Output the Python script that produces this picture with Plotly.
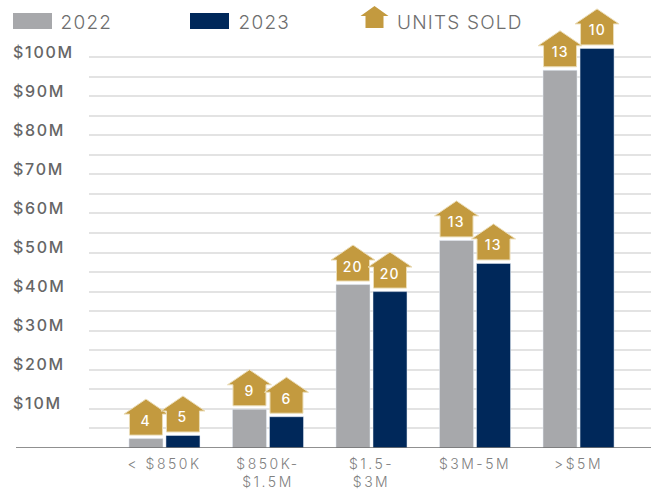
import plotly.graph_objects as go

categories = ["< $850K", "$850K-<br>$1.5M", "$1.5-<br>$3M", "$3M-5M", ">$5M"]
values_2022 = [2.4, 9.9, 41.8, 53.1, 96.6]
values_2023 = [3.2, 8.0, 40.0, 47.2, 102.2]
units_2022 = [4, 9, 20, 13, 13]
units_2023 = [5, 6, 20, 13, 10]
y_ticks = [10, 20, 30, 40, 50, 60, 70, 80, 90, 100]
y_labels = ["$10M", "$20M", "$30M", "$40M", "$50M", "$60M", "$70M", "$80M", "$90M", "$100M"]
y_minor = [5, 15, 25, 35, 45, 55, 65, 75, 85, 95]

GRAY = "#A7A8AB"
NAVY = "#00285A"
GOLD = "#C39A3F"
EDGE = "#EBDDB8"
FONT = "Inter, sans-serif"
W, H = 660, 489
L, R, T, B = 9, 651, 2.0, 448.0
Y_TOP = (B - T) / 3.91
PW = R - L


def house(cx, bottom=3.5):
    return (f"M{cx-16.5},{bottom} L{cx+16.5},{bottom} L{cx+16.5},{bottom+21} L{cx+22},{bottom+21} "
            f"L{cx},{bottom+36} L{cx-22},{bottom+21} L{cx-16.5},{bottom+21} Z")


fig = go.Figure()
fig.add_bar(x=list(range(5)), y=values_2022, name="2022", marker_color=GRAY, showlegend=False)
fig.add_bar(x=list(range(5)), y=values_2023, name="2023", marker_color=NAVY, showlegend=False)
# carries the dollar labels, whose spacing is slightly tighter than the gridlines
fig.add_scatter(x=[0], y=[y_ticks[0]], mode="none", yaxis="y2", showlegend=False, hoverinfo="skip")

shapes, annotations = [], []
for shift, vals, units in ((-18.5, values_2022, units_2022), (18.5, values_2023, units_2023)):
    for i, (v, u) in enumerate(zip(vals, units)):
        shapes.append(dict(type="path", xref="x", yref="y", xsizemode="pixel", ysizemode="pixel",
                           xanchor=i, yanchor=v, path=house(shift), fillcolor=GOLD,
                           line=dict(color=EDGE, width=1), layer="above"))
        annotations.append(dict(x=i, y=v, xref="x", yref="y", text=str(u), showarrow=False,
                                xshift=shift, yshift=18.5,
                                font=dict(family=FONT, size=14, color="white", weight=500)))

# baseline reaching past the gridlines
shapes.append(dict(type="line", xref="paper", yref="y", x0=(16 - L) / PW, x1=1, y0=0, y1=0,
                   line=dict(color="#6B6B6B", width=1.5), layer="above"))
# legend
for x0, x1, c in ((13, 52, GRAY), (190, 229, NAVY)):
    shapes.append(dict(type="rect", xref="paper", yref="paper",
                       x0=(x0 - L) / PW, x1=(x1 - L) / PW,
                       y0=(B - 29) / (B - T), y1=(B - 13) / (B - T),
                       fillcolor=c, line_width=0))
shapes.append(dict(type="path", xref="paper", yref="paper", xsizemode="pixel", ysizemode="pixel",
                   xanchor=(374.5 - L) / PW, yanchor=(B - 28) / (B - T),
                   path="M-9,0 L9,0 L9,12 L14,12 L0,22 L-14,12 L-9,12 Z", fillcolor=GOLD, line_width=0))
for x, txt in ((61, "2022"), (239, "2023"), (401, "UNITS SOLD")):
    annotations.append(dict(xref="paper", yref="paper", x=(x - L) / PW, y=(B - 22) / (B - T),
                            xanchor="left", yanchor="middle", text=txt, showarrow=False,
                            font=dict(family=FONT, size=19, color="#6E6E6E", weight=300)))

fig.update_layout(
    width=W, height=H, paper_bgcolor="white", plot_bgcolor="white",
    margin=dict(l=L, r=W - R, t=T, b=H - B, pad=0, autoexpand=False),
    barmode="group", bargap=0.285, bargroupgap=0.081,
    showlegend=False, shapes=shapes, annotations=annotations,
    font=dict(family=FONT),
    xaxis=dict(domain=[(89 - L) / PW, 1], range=[-0.729, 4.70], tickmode="array",
               tickvals=list(range(5)), ticktext=categories, ticks="", showgrid=False,
               showline=False, zeroline=False, tickangle=0, automargin=False, ticklabelstandoff=6,
               tickfont=dict(family=FONT, size=14, color="#808080", weight=300)),
    yaxis=dict(range=[0, Y_TOP], tickmode="array", tickvals=y_ticks, showticklabels=False,
               ticks="", showline=False,
               zeroline=False, showgrid=True, gridcolor="#E3E3E3", gridwidth=1.5, automargin=False,
               minor=dict(tickmode="array", tickvals=y_minor, showgrid=True,
                          gridcolor="#E3E3E3", gridwidth=1.5)),
    yaxis2=dict(overlaying="y", anchor="free", position=0, side="left",
                range=[-1.55, 113.0], tickmode="array", tickvals=y_ticks,
                ticktext=y_labels, ticklabelposition="inside", ticks="", showline=False,
                zeroline=False, showgrid=False, automargin=False,
                tickfont=dict(family=FONT, size=16, color="#666666", weight=500)),
)
post = """
document.body.style.margin = '0';
var s = document.createElement('style');
s.textContent = '.y2tick text{letter-spacing:1.7px} .xtick text{letter-spacing:2.5px} .annotation-text{letter-spacing:1.2px}';
document.head.appendChild(s);
"""
fig.write_html("out.html", post_script=post, config={"displayModeBar": False})
